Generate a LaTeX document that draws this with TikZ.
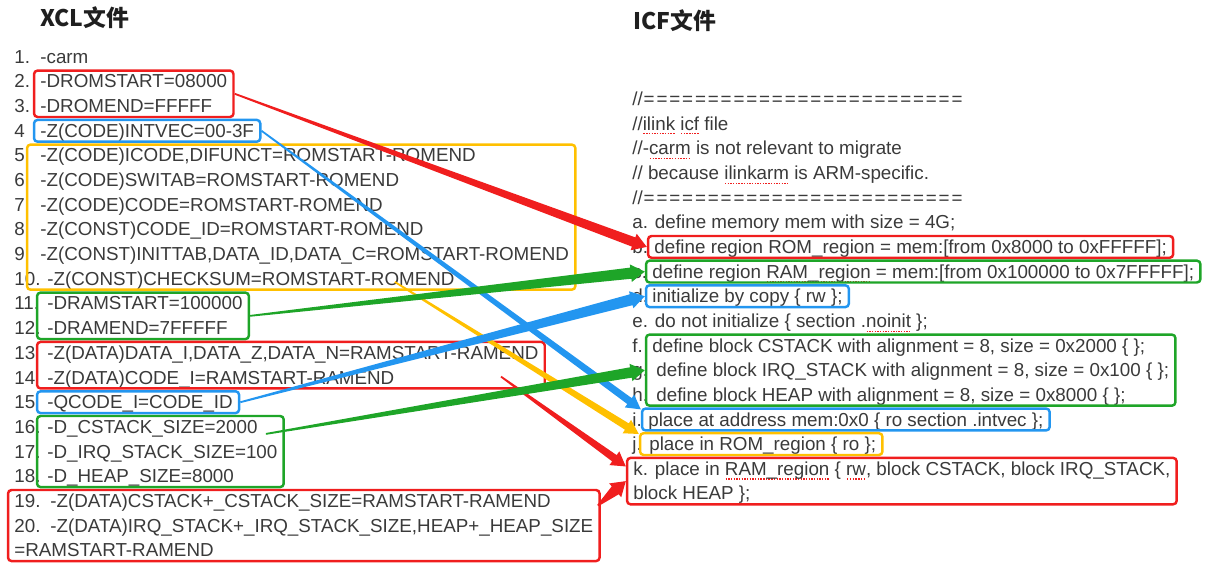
\documentclass[tikz,border=0pt]{standalone}
\usepackage{fontspec}
\setmainfont{Liberation Sans}
\newfontfamily\cjk{Noto Sans CJK SC}
\usetikzlibrary{positioning,fit,calc}

\definecolor{ink}{RGB}{58,58,58}
\definecolor{mkred}{RGB}{240,30,30}
\definecolor{mkblue}{RGB}{35,150,240}
\definecolor{mkyel}{RGB}{255,192,0}
\definecolor{mkgreen}{RGB}{30,165,40}

% red dotted underline for words the spell checker flags
\newcommand{\spell}[1]{\setbox0\hbox{#1}%
  \rlap{\raisebox{-2.4pt}{\textcolor{mkred}{\hbox to \wd0{\xleaders\hbox to 1.5pt{\hss\vrule width 0.8pt height 0.6pt\hss}\hfill}}}}\box0\relax}
% comment ruler of the icf file
\newcommand{\eqline}{//\foreach\k in {1,...,25}{\makebox[7.3pt]{=}}}
% wedge arrow: colour, from, to, end half width, head half width
\newcommand{\taper}[5]{%
  \path ($(#3)!8pt!(#2)$) coordinate (tb);
  \fill[#1] ($(#2)!0.5pt!90:(#3)$) -- ($(tb)!#4!-90:(#2)$) -- ($(tb)!#5!-90:(#2)$) -- (#3)
    -- ($(tb)!#5!90:(#2)$) -- ($(tb)!#4!90:(#2)$) -- ($(#2)!0.5pt!-90:(#3)$) -- cycle;}

\begin{document}
\begin{tikzpicture}[x=0.02cm, y=-0.02cm,
    font=\fontsize{10.7}{13}\selectfont, text=ink,
    ln/.style={anchor=base west, inner sep=0pt, text height=9.2pt, text depth=1.8pt},
    title/.style={anchor=base west, inner sep=0pt, text=black!88,
        font=\cjk\bfseries\fontsize{13}{15}\selectfont},
    hl/.style={draw=#1, rounded corners=2pt, line width=1.4pt,
        inner xsep=3.4pt, inner ysep=0.5pt}
  ]
\useasboundingbox (0,0) rectangle (1226,567);

% titles
\node[title] (xcl) at (40,27) {XCL文件};
\node[title] (icf) at (633,30) {ICF文件};

% XCL options
\node[ln] (n1)  at (14,63.3)  {1.};   \node[ln] (x1)  at (40,63.3)  {-carm};
\node[ln] (n2)  at (14,88.0)  {2.};   \node[ln] (x2)  at (40,88.0)  {-DROMSTART=08000};
\node[ln] (n3)  at (14,112.6) {3.};   \node[ln] (x3)  at (40,112.6) {-DROMEND=FFFFF};
\node[ln] (n4)  at (14,137.3) {4};    \node[ln] (x4)  at (40,137.3) {-Z(CODE)INTVEC=00-3F};
\node[ln] (n5)  at (14,162.0) {5};    \node[ln] (x5)  at (40,162.0) {-Z(CODE)ICODE,DIFUNCT=ROMSTART-ROMEND};
\node[ln] (n6)  at (14,186.7) {6};    \node[ln] (x6)  at (40,186.7) {-Z(CODE)SWITAB=ROMSTART-ROMEND};
\node[ln] (n7)  at (14,211.3) {7};    \node[ln] (x7)  at (40,211.3) {-Z(CODE)CODE=ROMSTART-ROMEND};
\node[ln] (n8)  at (14,236.0) {8};    \node[ln] (x8)  at (40,236.0) {-Z(CONST)CODE\_ID=ROMSTART-ROMEND};
\node[ln] (n9)  at (14,260.7) {9};    \node[ln] (x9)  at (40,260.7) {-Z(CONST)INITTAB,DATA\_ID,DATA\_C=ROMSTART-ROMEND};
\node[ln] (n10) at (14,285.3) {10.};  \node[ln] (x10) at (47,285.3) {-Z(CONST)CHECKSUM=ROMSTART-ROMEND};
\node[ln] (n11) at (14,310.0) {11.};  \node[ln] (x11) at (47,310.0) {-DRAMSTART=100000};
\node[ln] (n12) at (14,334.7) {12.};  \node[ln] (x12) at (47,334.7) {-DRAMEND=7FFFFF};
\node[ln] (n13) at (14,359.3) {13};   \node[ln] (x13) at (47,359.3) {-Z(DATA)DATA\_I,DATA\_Z,DATA\_N=RAMSTART-RAMEND};
\node[ln] (n14) at (14,384.0) {14};   \node[ln] (x14) at (47,384.0) {-Z(DATA)CODE\_I=RAMSTART-RAMEND};
\node[ln] (n15) at (14,408.7) {15};   \node[ln] (x15) at (47,408.7) {-QCODE\_I=CODE\_ID};
\node[ln] (n16) at (14,433.4) {16.};  \node[ln] (x16) at (47,433.4) {-D\_CSTACK\_SIZE=2000};
\node[ln] (n17) at (14,458.0) {17.};  \node[ln] (x17) at (47,458.0) {-D\_IRQ\_STACK\_SIZE=100};
\node[ln] (n18) at (14,482.7) {18.};  \node[ln] (x18) at (47,482.7) {-D\_HEAP\_SIZE=8000};
\node[ln] (n19) at (14,507.4) {19.};  \node[ln] (x19) at (50,507.4) {-Z(DATA)CSTACK+\_CSTACK\_SIZE=RAMSTART-RAMEND};
\node[ln] (n20) at (14,532.0) {20.};  \node[ln] (x20) at (50,532.0) {-Z(DATA)IRQ\_STACK+\_IRQ\_STACK\_SIZE,HEAP+\_HEAP\_SIZE};
\node[ln] (x21) at (14,556.7) {=RAMSTART-RAMEND};

% ICF file
\node[ln] (r0) at (632,105.5) {\eqline};
\node[ln] (r1) at (632,130.2) {//\spell{ilink} \spell{icf} file};
\node[ln] (r2) at (632,154.8) {//-\spell{carm} is not relevant to migrate};
\node[ln] (r3) at (632,179.5) {// because \spell{ilinkarm} is ARM-specific.};
\node[ln] (r4) at (632,204.1) {\eqline};
\node[ln] (ra) at (632,228.8) {a. define memory mem with size = 4G;};
\node[ln] (lb) at (632,253.4) {b.};
\node[ln] (rb) at (654,253.4) {define region \spell{ROM\_region} = mem:[from 0x8000 to 0xFFFFF];};
\node[ln] (lc) at (632,278.1) {c.};
\node[ln] (rc) at (652,278.1) {define region \spell{RAM\_region} = mem:[from 0x100000 to 0x7FFFFF];};
\node[ln] (ld) at (632,302.7) {d.};
\node[ln] (rd) at (652,302.7) {initialize by copy \{ \spell{rw} \};};
\node[ln] (re) at (632,327.4) {e. do not initialize \{ section .\spell{noinit} \};};
\node[ln] (lf) at (632,352.0) {f.};
\node[ln] (rf) at (652,352.0) {define block CSTACK with alignment = 8, size = 0x2000 \{ \};};
\node[ln] (lg) at (632,376.7) {g.};
\node[ln] (rg) at (656,376.7) {define block IRQ\_STACK with alignment = 8, size = 0x100 \{ \};};
\node[ln] (lh) at (632,401.3) {h.};
\node[ln] (rh) at (656,401.3) {define block HEAP with alignment = 8, size = 0x8000 \{ \};};
\node[ln] (li) at (632,426.0) {i.};
\node[ln] (ri) at (648,426.0) {place at address mem:0x0 \{ \spell{ro} section .\spell{intvec} \};};
\node[ln] (lj) at (632,450.6) {j.};
\node[ln] (rj) at (649,450.6) {place in \spell{ROM\_region} \{ \spell{ro} \};};
\node[ln] (rk)  at (633,475.3) {k. place in \spell{RAM\_region} \{ \spell{rw}, block CSTACK, block IRQ\_STACK,};
\node[ln] (rk2) at (633,499.9) {block HEAP \};};

% extra left margins of some frames
\coordinate (codel) at ($(x5.west)+(-7,0)$);
\coordinate (raml)  at ($(x11.west)+(-4,0)$);
\coordinate (datal) at ($(x13.west)+(-4,0)$);
\coordinate (qcl)   at ($(x15.west)+(-4,0)$);
\coordinate (stkl)  at ($(x16.west)+(-4,0)$);
\coordinate (jl)    at ($(rj.west)+(-3,0)$);

% highlight frames, XCL side
\node[hl=mkred,   fit={(x2)(x3)}] (rom) {};
\node[hl=mkblue,  fit={(x4)}] (intv) {};
\node[hl=mkyel,   fit={(x5)(x9)(x10)(codel)}] (code) {};
\node[hl=mkgreen, fit={(x11)(x12)(raml)}] (ramdef) {};
\node[hl=mkred,   fit={(x13)(x14)(datal)}] (ramdata) {};
\node[hl=mkblue,  fit={(x15)(qcl)}] (qcode) {};
\node[hl=mkgreen, fit={(x16)(x17)(x18)(stkl)}] (stk) {};
\node[hl=mkred,   fit={(n19)(x20)(x21)}] (ramstk) {};

% highlight frames, ICF side
\node[hl=mkred,   fit={(rb)}] (romb) {};
\node[hl=mkgreen, fit={(rc)}] (ramc) {};
\node[hl=mkblue,  fit={(rd)}] (initd) {};
\node[hl=mkgreen, fit={(rf)(rg)(rh)}] (blk) {};
\node[hl=mkblue,  fit={(ri)}] (ib) {};
\node[hl=mkyel,   fit={(rj)(jl)}] (jb) {};
\node[hl=mkred,   fit={(rk)(rk2)}] (ramk) {};

% loose ends of the wedges
\coordinate (ysrc) at ($(code.south west)!0.67!(code.south east)+(0,-9)$);
\coordinate (dsrc) at ($(ramdata.south east)+(-45,-13)$);
\coordinate (ssrc) at ($(x16.east)+(8,7)$);
\coordinate (hsrc) at ($(ramstk.east)+(-3,-20)$);
\coordinate (itip) at ($(ib.north west)+(0,2)$);
\coordinate (jtip) at ($(jb.north west)+(0,2)$);
\coordinate (ktip) at ($(ramk.north west)!0.2!(ramk.south west)$);

% mapping wedges
\taper{mkred}{rom.east}{romb.west}{2.8pt}{5pt}
\taper{mkblue}{intv.east}{itip}{2.1pt}{4.5pt}
\taper{mkyel}{ysrc}{jtip}{2.1pt}{4.5pt}
\taper{mkgreen}{ramdef.east}{ramc.west}{3.2pt}{5pt}
\taper{mkred}{dsrc}{ktip}{2.2pt}{4.8pt}
\taper{mkblue}{qcode.east}{initd.west}{3.2pt}{5pt}
\taper{mkgreen}{ssrc}{blk.west}{3pt}{5pt}
\taper{mkred}{hsrc}{ramk.west}{3pt}{5.2pt}
\end{tikzpicture}
\end{document}
